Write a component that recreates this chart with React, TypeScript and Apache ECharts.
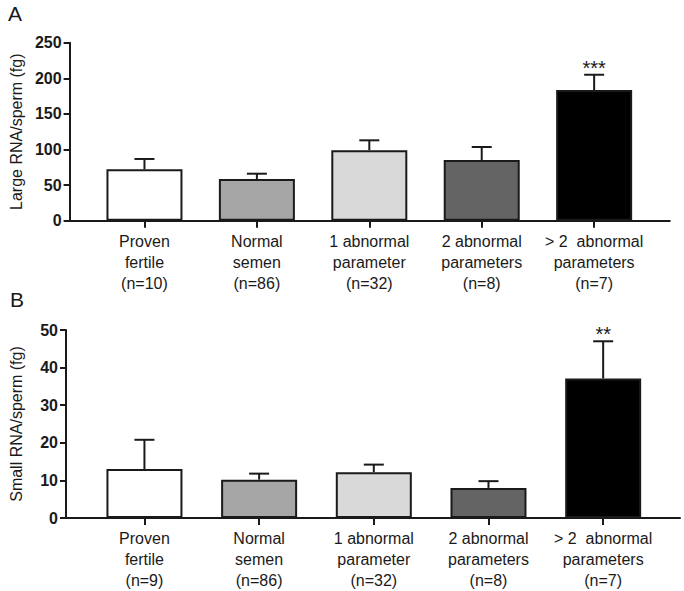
import React, { useEffect, useRef } from "react";
import * as echarts from "echarts";

const categoriesA = [
  "Proven\nfertile\n(n=10)",
  "Normal\nsemen\n(n=86)",
  "1 abnormal\nparameter\n(n=32)",
  "2 abnormal\nparameters\n(n=8)",
  "> 2  abnormal\nparameters\n(n=7)",
];
const categoriesB = [
  "Proven\nfertile\n(n=9)",
  "Normal\nsemen\n(n=86)",
  "1 abnormal\nparameter\n(n=32)",
  "2 abnormal\nparameters\n(n=8)",
  "> 2  abnormal\nparameters\n(n=7)",
];
const largeMeans = [72.2, 58.6, 98.9, 85.3, 183.6];
const largeErr = [14.5, 7.4, 14.0, 18.2, 21.4];
const smallMeans = [13.0, 10.2, 12.2, 8.0, 37.1];
const smallErr = [7.8, 1.6, 2.0, 1.8, 9.9];
const signifA = ["", "", "", "", "***"];
const signifB = ["", "", "", "", "**"];
const barColors = ["#ffffff", "#a6a6a6", "#d9d9d9", "#646464", "#000000"];
const ticksA = [0, 50, 100, 150, 200, 250];
const ticksB = [0, 10, 20, 30, 40, 50];
const catIdx = [0, 1, 2, 3, 4];

const FONT = "'Liberation Sans', Arial, Helvetica, sans-serif";
const INK = "#1a1a1a";

function xAxisFor(gridIndex: number, cats: string[], min: number, max: number) {
  return {
    type: "value",
    gridIndex,
    min,
    max,
    splitLine: { show: false },
    axisLine: { show: true, onZero: false, lineStyle: { color: INK, width: 2 } },
    axisTick: {
      show: true,
      customValues: catIdx,
      length: 7,
      lineStyle: { color: INK, width: 2 },
    },
    axisLabel: {
      show: true,
      customValues: catIdx,
      formatter: (v: number) => cats[Math.round(v)] ?? "",
      fontFamily: FONT,
      fontSize: 16,
      lineHeight: 21,
      color: INK,
      margin: 10,
    },
  };
}

function yAxisFor(gridIndex: number, name: string, ticks: number[]) {
  return {
    type: "value",
    gridIndex,
    min: ticks[0],
    max: ticks[ticks.length - 1],
    interval: ticks[1] - ticks[0],
    name,
    nameLocation: "middle",
    nameGap: 42,
    nameTextStyle: { fontFamily: FONT, fontSize: 16, color: INK },
    splitLine: { show: false },
    axisLine: { show: true, onZero: false, lineStyle: { color: INK, width: 2 } },
    axisTick: { show: true, length: 6, lineStyle: { color: INK, width: 2 } },
    axisLabel: {
      fontFamily: FONT,
      fontSize: 16,
      fontWeight: "bold",
      color: INK,
      margin: 8,
    },
  };
}

function barSeries(idx: number, means: number[]) {
  return {
    type: "bar",
    xAxisIndex: idx,
    yAxisIndex: idx,
    barWidth: 76,
    data: means.map((v, i) => ({
      value: [i, v],
      itemStyle: { color: barColors[i], borderColor: INK, borderWidth: 2 },
    })),
  };
}

function errSeries(idx: number, means: number[], errs: number[], sig: string[]) {
  return {
    type: "custom",
    xAxisIndex: idx,
    yAxisIndex: idx,
    z: 3,
    encode: { x: 0, y: 1 },
    data: means.map((v, i) => [i, v, errs[i]]),
    renderItem: (params: any, api: any) => {
      const x = api.value(0);
      const m = api.value(1);
      const e = api.value(2);
      const base = api.coord([x, m]);
      const top = api.coord([x, m + e]);
      const children: any[] = [
        {
          type: "line",
          shape: { x1: base[0], y1: base[1], x2: top[0], y2: top[1] },
          style: { stroke: INK, lineWidth: 2 },
        },
        {
          type: "line",
          shape: { x1: top[0] - 10, y1: top[1], x2: top[0] + 10, y2: top[1] },
          style: { stroke: INK, lineWidth: 2 },
        },
      ];
      const s = sig[params.dataIndex];
      if (s) {
        children.push({
          type: "text",
          x: top[0],
          y: top[1] - 7,
          style: {
            text: s,
            fill: INK,
            fontFamily: FONT,
            fontSize: 20,
            align: "center",
            verticalAlign: "middle",
          },
        });
      }
      return { type: "group", children };
    },
  };
}

export default function App() {
  const ref = useRef<HTMLDivElement>(null);
  useEffect(() => {
    document.body.style.margin = "0";
    if (!ref.current) return;
    const chart = echarts.init(ref.current, null, { renderer: "svg" });
    chart.setOption({
      animation: false,
      backgroundColor: "#ffffff",
      grid: [
        { left: 63, top: 42.7, right: 14.2, height: 178 },
        { left: 64.3, top: 330, right: 4, height: 189.5 },
      ],
      xAxis: [
        xAxisFor(0, categoriesA, -0.666, 4.673),
        xAxisFor(1, categoriesB, -0.684, 4.67),
      ],
      yAxis: [
        yAxisFor(0, "Large RNA/sperm (fg)", ticksA),
        yAxisFor(1, "Small RNA/sperm (fg)", ticksB),
      ],
      graphic: [
        {
          type: "text",
          left: 8,
          top: 3,
          style: { text: "A", fontFamily: FONT, fontSize: 21, fill: INK },
        },
        {
          type: "text",
          left: 10,
          top: 289,
          style: { text: "B", fontFamily: FONT, fontSize: 21, fill: INK },
        },
      ],
      series: [
        barSeries(0, largeMeans),
        errSeries(0, largeMeans, largeErr, signifA),
        barSeries(1, smallMeans),
        errSeries(1, smallMeans, smallErr, signifB),
      ],
    });
    return () => chart.dispose();
  }, []);
  return <div ref={ref} style={{ width: 684, height: 591 }} />;
}
